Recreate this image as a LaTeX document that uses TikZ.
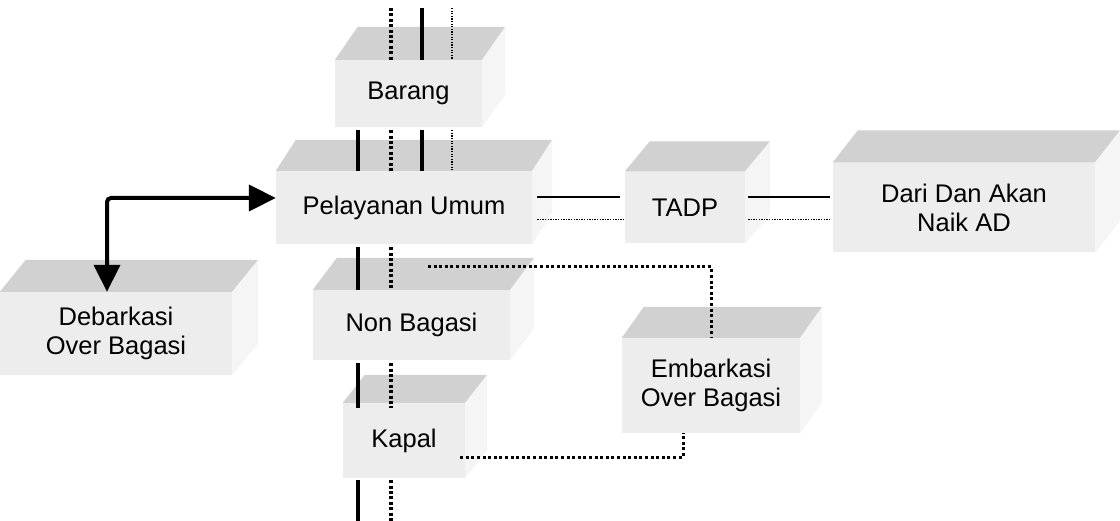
\documentclass[tikz,border=0pt]{standalone}
\usepackage{fontspec}
\setmainfont{Liberation Sans}
\usetikzlibrary{arrows.meta,calc}
\tikzset{
  blok/.style={fill=gray!14, inner sep=0pt, align=center,
               font=\fontsize{25.5}{29}\selectfont},
  atap/.style={fill=gray!36},
  sisi/.style={fill=gray!8},
  garis/.style={line width=3.6pt},
  titik/.style={line width=3.6pt, dash pattern=on 3pt off 2.4pt},
  halus/.style={line width=1.3pt, dash pattern=on 1.3pt off 1.3pt},
  tipis/.style={line width=2pt},
  jalur/.style={line width=3pt, dash pattern=on 3pt off 2.6pt},
  panah/.style={{Triangle[length=27pt,width=26pt]}-{Triangle[length=27pt,width=26pt]},
                line width=4pt, rounded corners=4pt},
}
\begin{document}
\begin{tikzpicture}[x=1pt,y=-1pt]
  \fill[white] (0,0) rectangle (1120,521);
  \useasboundingbox (0,0) rectangle (1120,521);
  % kotak-kotak
  \node[blok, minimum width=147pt, minimum height=67pt] (barang) at (408.5,93.5) {Barang};
  \node[blok, minimum width=256pt, minimum height=73pt] (pel) at (404,207.5) {Pelayanan Umum};
  \node[blok, minimum width=120pt, minimum height=72pt] (tadp) at (685,207.5) {TADP};
  \node[blok, minimum width=262pt, minimum height=90pt] (dari) at (964,207.5) {Dari Dan Akan\\Naik AD};
  \node[blok, minimum width=232pt, minimum height=83pt] (deb) at (116,333.5) {Debarkasi\\Over Bagasi};
  \node[blok, minimum width=197pt, minimum height=70pt] (non) at (411.5,325) {Non Bagasi};
  \node[blok, minimum width=122pt, minimum height=75pt] (kapal) at (404,440.5) {Kapal};
  \node[blok, minimum width=178pt, minimum height=95pt] (emb) at (711,385.5) {Embarkasi\\Over Bagasi};
  % sisi atas dan samping
  \foreach \n/\d/\h in {barang/23/33, pel/20/31, tadp/25/30, dari/25/32,
                        deb/26/32, non/24/32, kapal/22/28, emb/22/31}{
    \fill[atap] (\n.north west) -- ++(\d,-\h) -- ($(\n.north east)+(\d,-\h)$) -- (\n.north east) -- cycle;
    \fill[sisi] (\n.north east) -- ++(\d,-\h) -- ($(\n.south east)+(\d,-\h)$) -- (\n.south east) -- cycle;
  }
  % jalur tegak
  \foreach \x/\s in {391/titik, 422/garis, 452/halus}
    \draw[\s] (\x,8) -- (\x,0 |- barang.north);
  \foreach \x/\s in {358/garis, 391/titik, 422/garis, 452/halus}
    \draw[\s] ([yshift=-3pt]\x,0 |- barang.south) -- (\x,0 |- pel.north);
  \foreach \x/\s in {358/garis, 391/titik}{
    \draw[\s] ([yshift=-3pt]\x,0 |- pel.south) -- (\x,0 |- non.north);
    \draw[\s] ([yshift=-3pt]\x,0 |- non.south) -- ([yshift=-5pt]\x,0 |- kapal.north);
    \draw[\s] ([yshift=-2pt]\x,0 |- kapal.south) -- (\x,521);
  }
  % jalur mendatar
  \draw[tipis, shorten <=5pt, shorten >=5pt] ([yshift=10pt]pel.east) -- ([yshift=10pt]tadp.west);
  \draw[halus, shorten <=5pt] ([yshift=-12pt]pel.east) -- ([yshift=-12pt]tadp.west);
  \draw[tipis, shorten <=3pt, shorten >=3pt] ([yshift=10pt]tadp.east) -- ([yshift=10pt]dari.west);
  \draw[halus, shorten <=3pt, shorten >=3pt] ([yshift=-12pt]tadp.east) -- ([yshift=-12pt]dari.west);
  % ke embarkasi
  \draw[jalur] ($(non.north)+(16.5,-23)$) -| (emb.north);
  \draw[jalur] ([yshift=-16.5pt,xshift=-5pt]kapal.east) -| ([xshift=-28pt]emb.south);
  % panah debarkasi
  \coordinate (tekuk) at (107,198);
  \draw[panah] (tekuk |- deb.north) -- (tekuk) -- ([yshift=9.5pt]pel.west);
\end{tikzpicture}
\end{document}
